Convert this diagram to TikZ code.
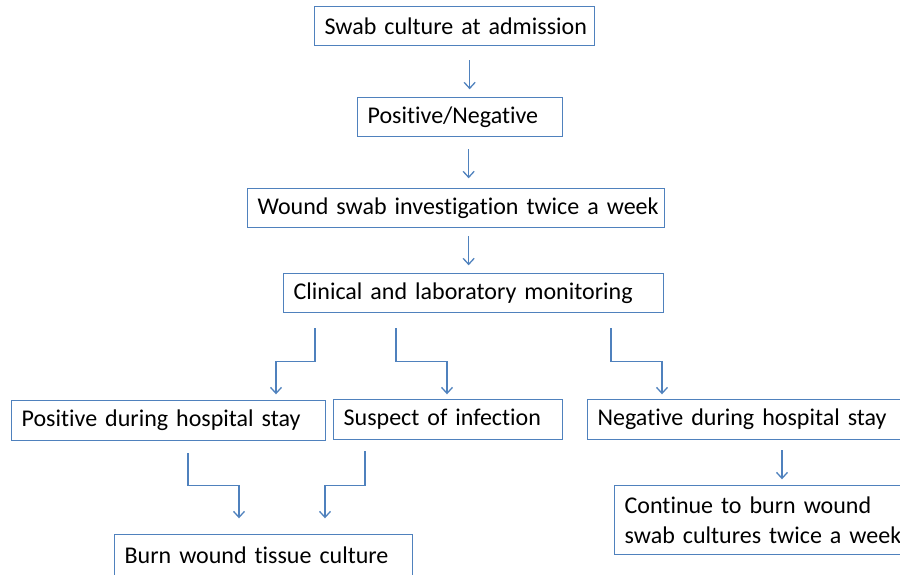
\documentclass[tikz,border=0pt]{standalone}
\usepackage{fontspec}
\setmainfont{Carlito}[Ligatures=NoCommon, WordSpace=0.7]
\usetikzlibrary{arrows.meta}
\definecolor{boxblue}{RGB}{79,129,189}
\tikzset{
  box/.style={draw=boxblue, line width=1.3pt, anchor=north west, inner xsep=10pt, inner ysep=0pt,
    align=left, font=\fontsize{24}{29.5}\selectfont, text=black},
  conn/.style={draw=boxblue, line width=1.3pt, -{Straight Barb[length=6pt,width=11pt,line width=1.3pt]}}
}
\begin{document}
\begin{tikzpicture}[x=1pt,y=-1pt]
\useasboundingbox (0,0) rectangle (900,574);
\clip (0,0) rectangle (900,574);
\node[box, text width=260pt, minimum height=39pt] (n1) at (314,6) {\mbox{Swab culture at admission}};
\node[box, text width=185pt, minimum height=39pt] (n2) at (357,97) {\mbox{Positive/Negative}};
\node[box, text width=397pt, minimum height=39pt] (n3) at (247,188) {\mbox{Wound swab investigation twice a week}};
\node[box, text width=360pt, minimum height=39pt] (n4) at (283,273) {\mbox{Clinical and laboratory monitoring}};
\node[box, text width=294pt, minimum height=40pt] (n5) at (11,400) {\mbox{Positive during hospital stay}};
\node[box, text width=209pt, minimum height=40pt] (n6) at (333,399) {\mbox{Suspect of infection}};
\node[box, text width=300pt, minimum height=40pt] (n8) at (587,399) {\mbox{Negative during hospital stay}};
\node[box, text width=290pt, minimum height=69pt] (n9) at (614,485) {\mbox{Continue to burn wound}\\\mbox{swab cultures twice a week}};
\node[box, text width=278pt, minimum height=42pt] (n7) at (114,534) {\mbox{Burn wound tissue culture}};

\draw[conn] (n1.south) ++(15,14) -- ++(0,29);
\draw[conn] (n2.south) ++(8.5,12) -- ++(0,29);
\draw[conn] (n3.south) ++(12.5,8) -- ++(0,29);
\draw[conn] (n4.south west) ++(32,15) -- ++(0,33) -- ++(-39,0) -- ++(0,33);
\draw[conn] (n4.south west) ++(113,15) -- ++(0,33) -- ++(51,0) -- ++(0,33);
\draw[conn] (n4.south west) ++(328,15) -- ++(0,33) -- ++(51,0) -- ++(0,33);
\draw[conn] (n5.south west) ++(177,12) -- ++(0,32) -- ++(51,0) -- ++(0,33);
\draw[conn] (n6.south west) ++(32,11) -- ++(0,34) -- ++(-40,0) -- ++(0,33);
\draw[conn] (n8.south west) ++(195,10) -- ++(0,29);
\end{tikzpicture}
\end{document}
